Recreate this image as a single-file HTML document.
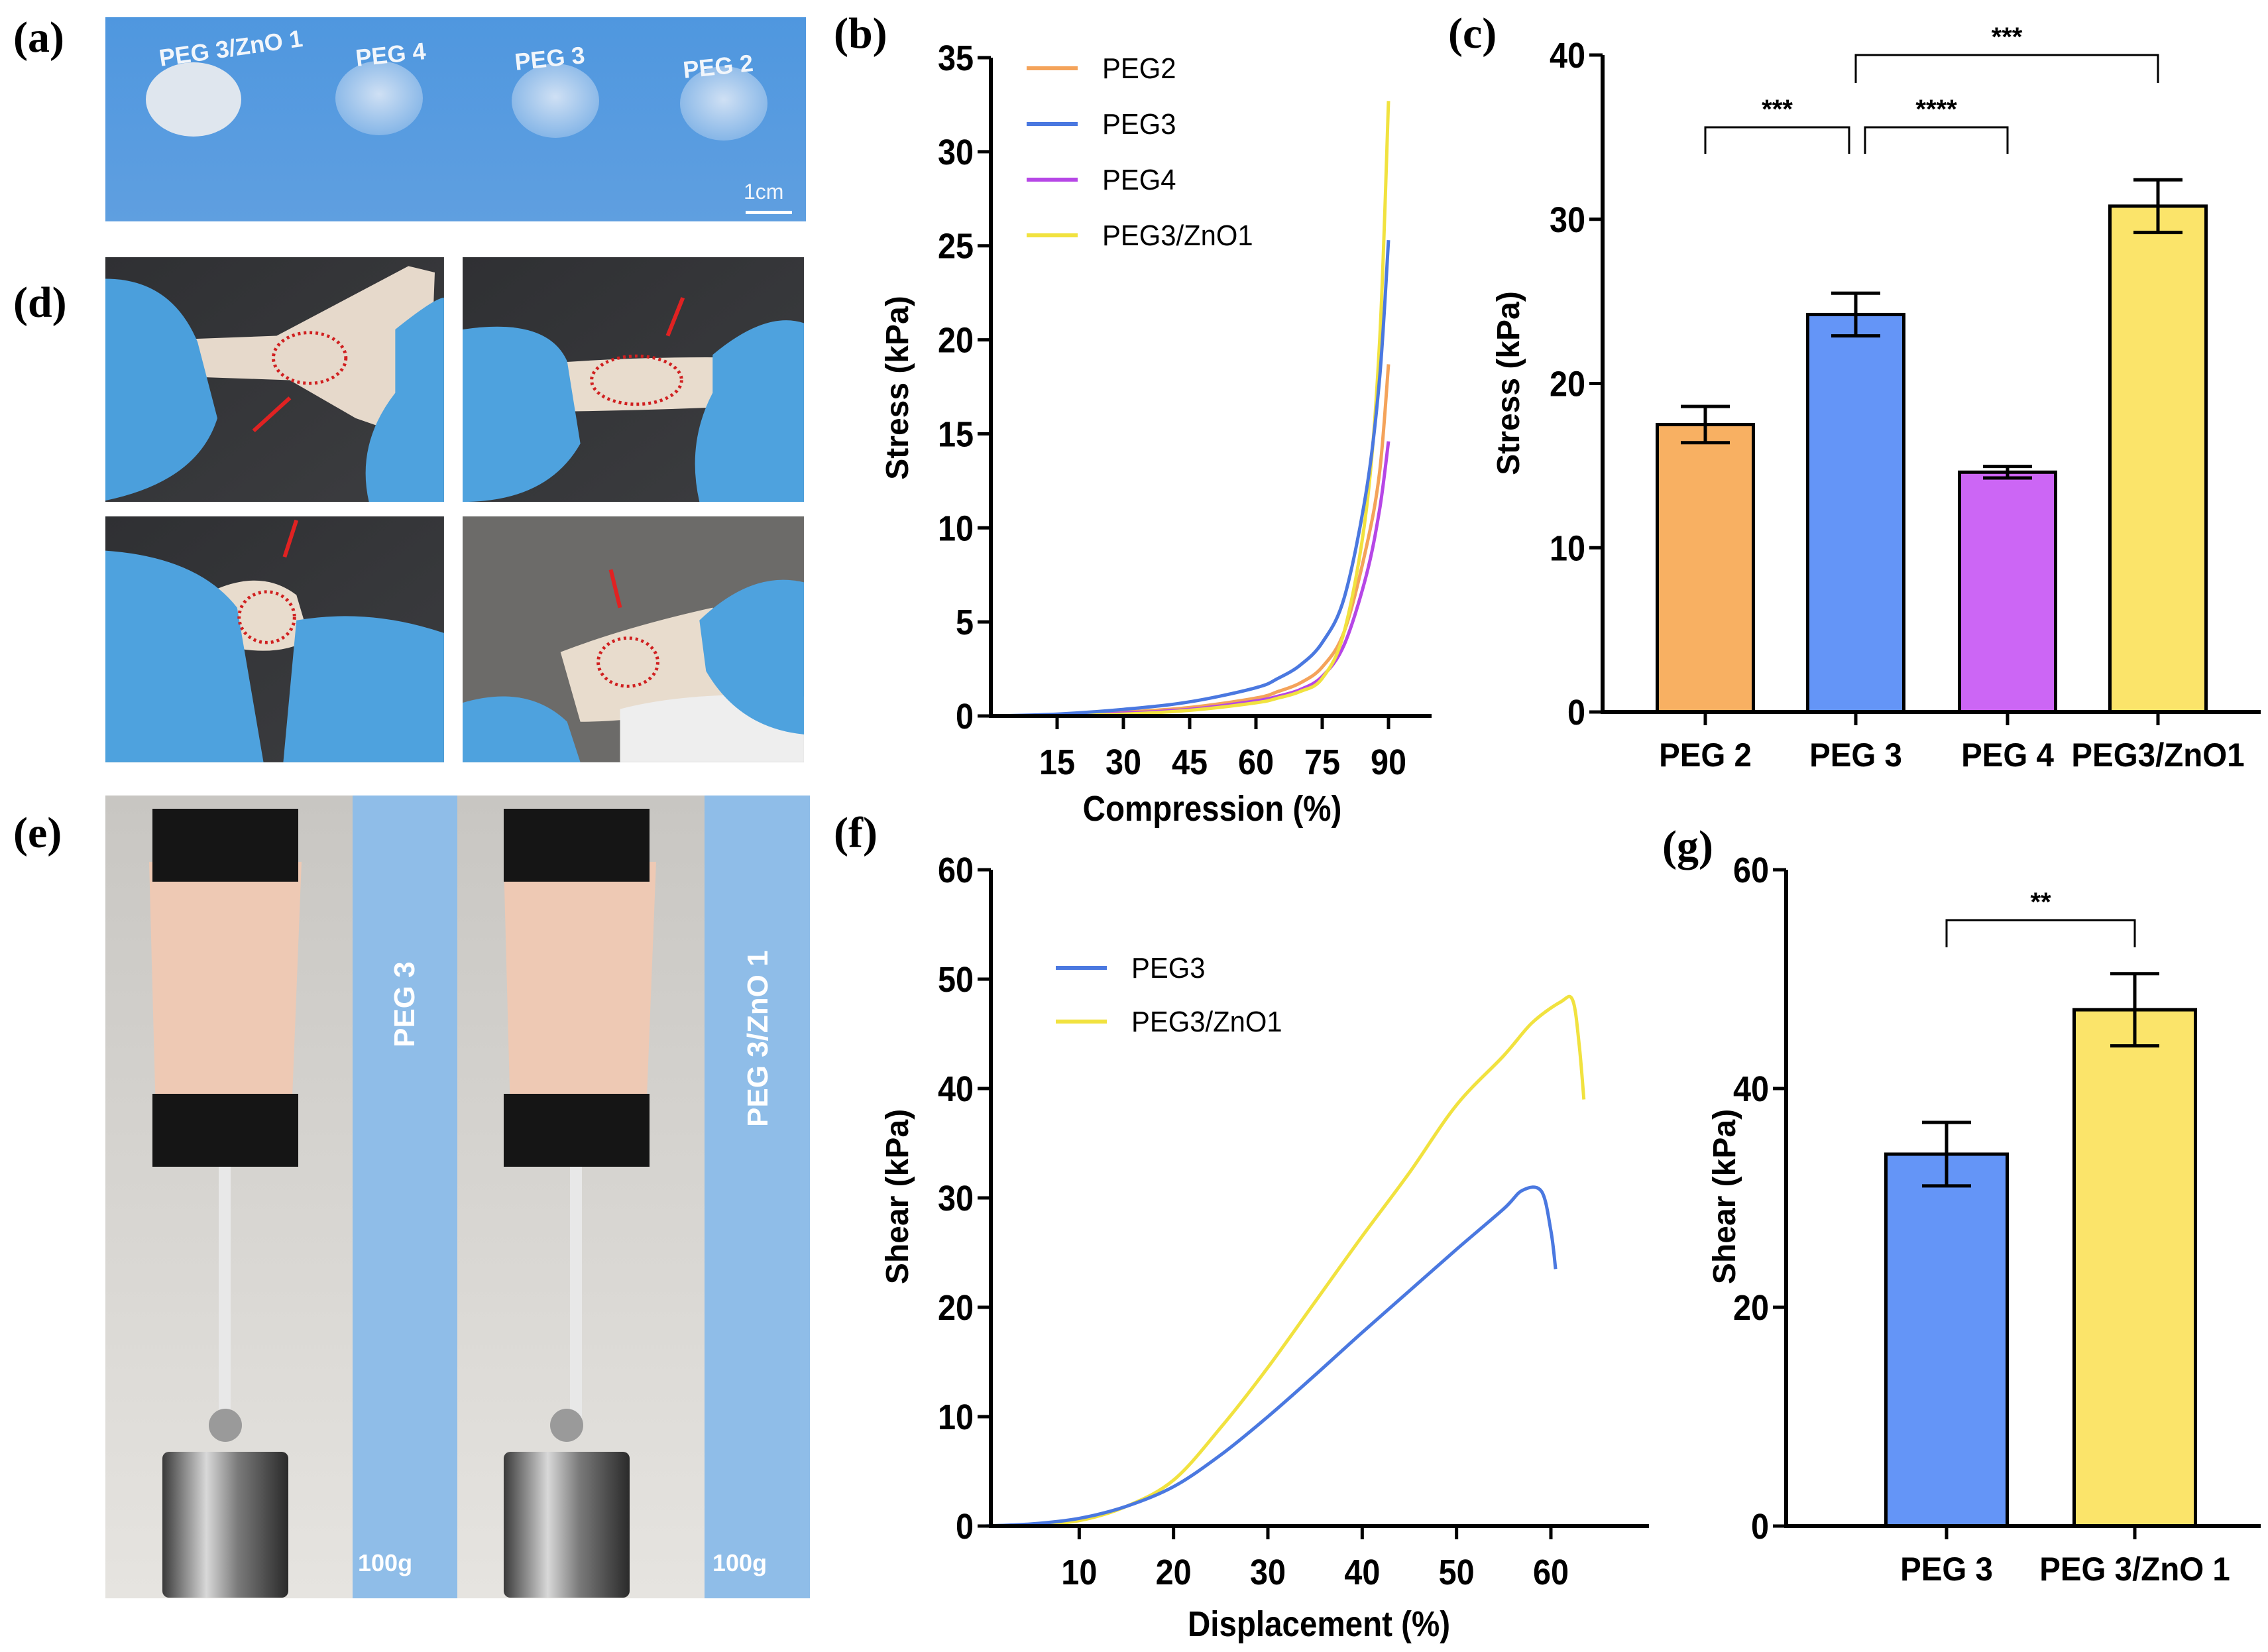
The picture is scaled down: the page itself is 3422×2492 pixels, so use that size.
<!DOCTYPE html>
<html><head><meta charset="utf-8"><style>
html,body{margin:0;padding:0;background:#fff;overflow:hidden}
svg{display:block}
text{font-family:"Liberation Sans",sans-serif}
</style></head><body>
<svg id="fig" width="3422" height="2492" viewBox="0 0 3422 2492" xmlns="http://www.w3.org/2000/svg">
<defs>
<linearGradient id="gblue" x1="0" y1="0" x2="0" y2="1"><stop offset="0" stop-color="#4f97df"/><stop offset="1" stop-color="#5f9fe0"/></linearGradient>
<radialGradient id="gel" cx="0.5" cy="0.45" r="0.6"><stop offset="0" stop-color="#cfe0f4"/><stop offset="1" stop-color="#7fb2e6"/></radialGradient>
<linearGradient id="dark" x1="0" y1="0" x2="1" y2="1"><stop offset="0" stop-color="#2f3033"/><stop offset="1" stop-color="#3c3d40"/></linearGradient>
<linearGradient id="wall" x1="0" y1="0" x2="0" y2="1"><stop offset="0" stop-color="#c8c6c2"/><stop offset="1" stop-color="#e6e4e0"/></linearGradient>
<linearGradient id="metal" x1="0" y1="0" x2="1" y2="0"><stop offset="0" stop-color="#3a3a3a"/><stop offset="0.35" stop-color="#d8d8d8"/><stop offset="0.6" stop-color="#7a7a7a"/><stop offset="1" stop-color="#2a2a2a"/></linearGradient>
</defs>

<g font-weight="bold" font-size="66">
<text x="20" y="78" style="font-family:'Liberation Serif',serif">(a)</text>
<text x="20" y="478" style="font-family:'Liberation Serif',serif">(d)</text>
<text x="20" y="1278" style="font-family:'Liberation Serif',serif">(e)</text>
<text x="1258" y="72" style="font-family:'Liberation Serif',serif">(b)</text>
<text x="2185" y="72" style="font-family:'Liberation Serif',serif">(c)</text>
<text x="1258" y="1278" style="font-family:'Liberation Serif',serif">(f)</text>
<text x="2508" y="1298" style="font-family:'Liberation Serif',serif">(g)</text>
</g>

<!-- panel a photo -->
<g>
<rect x="159" y="26" width="1057" height="308" fill="url(#gblue)"/>
<ellipse cx="292" cy="150" rx="72" ry="56" fill="#dfe6ee"/>
<ellipse cx="572" cy="148" rx="66" ry="56" fill="url(#gel)"/>
<ellipse cx="838" cy="152" rx="66" ry="56" fill="url(#gel)"/>
<ellipse cx="1092" cy="156" rx="66" ry="56" fill="url(#gel)"/>
<g fill="#f2f6fb" font-weight="bold" font-size="36">
<text x="242" y="100" transform="rotate(-8 242 100)">PEG 3/ZnO 1</text>
<text x="538" y="100" transform="rotate(-6 538 100)">PEG 4</text>
<text x="778" y="106" transform="rotate(-6 778 106)">PEG 3</text>
<text x="1032" y="118" transform="rotate(-6 1032 118)">PEG 2</text>
<text x="1122" y="300" font-weight="normal" font-size="32">1cm</text>
</g>
<rect x="1125" y="318" width="70" height="5" fill="#fff"/>
</g>

<!-- panel d photos -->
<g>
<g transform="translate(159 388) scale(0.994 0.956) translate(-160 -406)">
<rect x="160" y="406" width="514" height="386" fill="url(#dark)"/>
<path d="M160 540 L420 530 L620 420 L660 430 L650 700 L540 660 L440 600 L160 590Z" fill="#e6d9cb"/>
<path d="M160 440 Q260 440 300 540 L330 660 Q300 760 160 790Z" fill="#4b9fdc"/>
<path d="M600 520 Q660 470 674 470 L674 792 L560 792 Q540 700 600 620Z" fill="#4ea2de"/>
<ellipse cx="470" cy="565" rx="55" ry="40" fill="none" stroke="#d02020" stroke-width="5" stroke-dasharray="4 5"/>
<line x1="385" y1="680" x2="440" y2="628" stroke="#e02222" stroke-width="6"/>
</g>
<g transform="translate(698 388) scale(0.998 0.956) translate(-702 -406)">
<rect x="702" y="406" width="516" height="386" fill="url(#dark)"/>
<path d="M760 580 Q950 560 1150 565 L1150 640 Q950 650 760 650Z" fill="#e8dccd"/>
<path d="M702 520 Q830 500 860 570 L880 700 Q830 792 702 792Z" fill="#4ea2de"/>
<path d="M1080 560 Q1160 490 1218 510 L1218 792 L1060 792 Q1040 700 1080 620Z" fill="#4ea2de"/>
<ellipse cx="965" cy="600" rx="68" ry="38" fill="none" stroke="#d02020" stroke-width="5" stroke-dasharray="4 5"/>
<line x1="1035" y1="470" x2="1012" y2="530" stroke="#e02222" stroke-width="6"/>
</g>
<g transform="translate(159 779) scale(0.994 0.956) translate(-160 -816)">
<rect x="160" y="816" width="514" height="388" fill="url(#dark)"/>
<path d="M330 930 Q400 900 450 940 L470 1010 Q420 1040 340 1020Z" fill="#e8dccd"/>
<path d="M160 870 Q300 880 360 960 L400 1204 L160 1204Z" fill="#4ea2de"/>
<path d="M450 980 Q560 960 674 1000 L674 1204 L430 1204Z" fill="#4ea2de"/>
<ellipse cx="405" cy="975" rx="42" ry="40" fill="none" stroke="#d02020" stroke-width="5" stroke-dasharray="4 5"/>
<line x1="450" y1="822" x2="432" y2="880" stroke="#e02222" stroke-width="6"/>
</g>
<g transform="translate(698 779) scale(0.998 0.956) translate(-702 -816)">
<rect x="702" y="816" width="516" height="388" fill="#6c6b69"/>
<path d="M850 1030 Q950 990 1080 960 L1120 1100 Q1000 1140 880 1140Z" fill="#e8dccd"/>
<path d="M940 1120 Q1050 1090 1218 1100 L1218 1204 L940 1204Z" fill="#eeeeee"/>
<path d="M702 1110 Q800 1080 860 1140 L880 1204 L702 1204Z" fill="#4ea2de"/>
<path d="M1060 980 Q1140 900 1218 920 L1218 1160 Q1120 1150 1070 1060Z" fill="#4ea2de"/>
<ellipse cx="952" cy="1046" rx="45" ry="38" fill="none" stroke="#d02020" stroke-width="5" stroke-dasharray="4 5"/>
<line x1="926" y1="900" x2="940" y2="960" stroke="#e02222" stroke-width="6"/>
</g>
</g>

<!-- panel e -->
<g>
<rect x="159" y="1200" width="373" height="1211" fill="url(#wall)"/>
<rect x="690" y="1200" width="373" height="1211" fill="url(#wall)"/>
<rect x="532" y="1200" width="158" height="1211" fill="#8fbde8"/>
<rect x="1063" y="1200" width="159" height="1211" fill="#8fbde8"/>
<path d="M225 1300 L455 1300 L440 1680 L235 1680Z" fill="#eec9b4"/>
<path d="M760 1300 L990 1300 L975 1680 L770 1680Z" fill="#eec9b4"/>
<rect x="230" y="1220" width="220" height="110" fill="#151515"/>
<rect x="230" y="1650" width="220" height="110" fill="#151515"/>
<rect x="760" y="1220" width="220" height="110" fill="#151515"/>
<rect x="760" y="1650" width="220" height="110" fill="#151515"/>
<rect x="330" y="1760" width="18" height="380" fill="#e8e8e8"/>
<rect x="860" y="1760" width="18" height="380" fill="#e8e8e8"/>
<rect x="245" y="2190" width="190" height="220" rx="10" fill="url(#metal)"/>
<rect x="760" y="2190" width="190" height="220" rx="10" fill="url(#metal)"/>
<circle cx="340" cy="2150" r="25" fill="#9a9a9a"/>
<circle cx="855" cy="2150" r="25" fill="#9a9a9a"/>
<g fill="#fff" font-weight="bold" font-size="44">
<text x="0" y="0" transform="translate(625 1580) rotate(-90)">PEG 3</text>
<text x="0" y="0" transform="translate(1158 1700) rotate(-90)">PEG 3/ZnO 1</text>
<text x="540" y="2370" font-size="36">100g</text>
<text x="1075" y="2370" font-size="36">100g</text>
</g>
</g>

<g id="charts"></g>
</svg>
<script>
// ---------- data ----------
var compX = [0, 15, 30, 45, 60, 65, 70, 75, 80, 85, 88, 90];
var compPEG2 = [0, 0.05, 0.2, 0.45, 0.95, 1.3, 1.75, 2.6, 4.5, 9, 13, 18.7];
var compPEG3 = [0, 0.1, 0.35, 0.75, 1.5, 2.0, 2.7, 3.9, 6.3, 12, 18, 25.3];
var compPEG4 = [0, 0.05, 0.15, 0.35, 0.8, 1.05, 1.4, 2.1, 3.8, 7.5, 11, 14.6];
var compZnO  = [0, 0.03, 0.1, 0.3, 0.7, 0.95, 1.3, 2.0, 4.5, 11, 20, 32.7];
var compTicksX = [15, 30, 45, 60, 75, 90];
var compTicksY = [0, 5, 10, 15, 20, 25, 30, 35];

var barCats = ["PEG 2", "PEG 3", "PEG 4", "PEG3/ZnO1"];
var barVals = [17.5, 24.2, 14.6, 30.8];
var barErr  = [1.1, 1.3, 0.35, 1.6];
var barTicksY = [0, 10, 20, 30, 40];

var shearX3 = [0, 5, 10, 15, 20, 25, 30, 35, 40, 45, 50, 55, 57, 59, 60, 60.5];
var shearY3 = [0, 0.2, 0.7, 1.8, 3.6, 6.5, 10, 13.8, 17.7, 21.5, 25.3, 29, 30.7, 30.6, 27, 23.5];
var shearXZ = [0, 5, 10, 15, 20, 25, 30, 35, 40, 45, 50, 55, 58, 61, 62.3, 63, 63.5];
var shearYZ = [0, 0.1, 0.5, 1.8, 4.2, 9, 14.5, 20.5, 26.5, 32.3, 38.5, 43, 46, 47.9, 48.1, 44, 39];
var shearTicksX = [10, 20, 30, 40, 50, 60];
var shearTicksY = [0, 10, 20, 30, 40, 50, 60];

var gCats = ["PEG 3", "PEG 3/ZnO 1"];
var gVals = [34, 47.2];
var gErr  = [2.9, 3.3];
var gTicksY = [0, 20, 40, 60];

var NS = "http://www.w3.org/2000/svg";
var root = document.getElementById("charts");
function el(tag, attrs, parent) {
  var e = document.createElementNS(NS, tag);
  for (var k in attrs) e.setAttribute(k, attrs[k]);
  (parent || root).appendChild(e);
  return e;
}
function ntext(str, x, y, size, anchor, weight, parent, sx) {
  var t = el("text", {x: 0, y: 0, "font-size": size, "text-anchor": anchor, "font-weight": weight,
    transform: "translate(" + x + " " + y + ") scale(" + (sx || 0.9) + " 1)"}, parent);
  t.textContent = str;
  return t;
}
function lin(d0, d1, r0, r1) { return function (v) { return r0 + (v - d0) / (d1 - d0) * (r1 - r0); }; }
function smoothPath(xs, ys, sx, sy) {
  var p = xs.map(function (x, i) { return [sx(x), sy(ys[i])]; });
  var d = "M" + p[0][0] + " " + p[0][1];
  for (var i = 0; i < p.length - 1; i++) {
    var p0 = p[Math.max(0, i - 1)], p1 = p[i], p2 = p[i + 1], p3 = p[Math.min(p.length - 1, i + 2)];
    var c1x = p1[0] + (p2[0] - p0[0]) / 6, c1y = p1[1] + (p2[1] - p0[1]) / 6;
    var c2x = p2[0] - (p3[0] - p1[0]) / 6, c2y = p2[1] - (p3[1] - p1[1]) / 6;
    d += " C" + c1x.toFixed(1) + " " + c1y.toFixed(1) + " " + c2x.toFixed(1) + " " + c2y.toFixed(1) + " " + p2[0].toFixed(1) + " " + p2[1].toFixed(1);
  }
  return d;
}
function axes(g, x0, xEnd, y0, yTop, ticksY, sy, ticksX, sx) {
  var a = el("path", {d: "M" + x0 + " " + yTop + " L" + x0 + " " + y0 + " L" + xEnd + " " + y0, fill: "none", stroke: "#000", "stroke-width": 6}, g);
  
  
  ticksY.forEach(function (v) {
    var y = sy(v);
    el("line", {x1: x0 - 20, x2: x0, y1: y, y2: y, stroke: "#000", "stroke-width": 5}, g);
    var t = ntext(String(v), x0 - 26, y + 19, 54, "end", "bold", g);
    
    
  });
  (ticksX || []).forEach(function (v) {
    var x = sx(v);
    el("line", {x1: x, x2: x, y1: y0, y2: y0 + 20, stroke: "#000", "stroke-width": 5}, g);
    var t = ntext(String(v), x, y0 + 88, 54, "middle", "bold", g);
    
    
  });
}
function ylabel(g, str, x, y) {
  var t = el("text", {x: 0, y: 0, "font-size": 48, "font-weight": "bold", "text-anchor": "middle", transform: "translate(" + x + " " + y + ") rotate(-90)"}, g);
  t.textContent = str;
  
  
}
function legend(g, items, x, y, dy) {
  items.forEach(function (it, i) {
    var yy = y + i * dy;
    var l = el("line", {x1: x, x2: x + 77, y1: yy, y2: yy, stroke: it[1], "stroke-width": 6}, g);
    
    
    var t = ntext(it[0], x + 114, yy + 15, 44, "start", "normal", g, 0.95);
    
    
  });
}
function bracket(g, x1, x2, y, h, label) {
  el("path", {d: "M" + x1 + " " + (y + h) + " L" + x1 + " " + y + " L" + x2 + " " + y + " L" + x2 + " " + (y + h), fill: "none", stroke: "#000", "stroke-width": 3}, g);
  var t = ntext(label, (x1 + x2) / 2, y - 14, 40, "middle", "bold", g, 1);
  
  
}
var colors = {peg2: "#f4a35a", peg3: "#4a78e0", peg4: "#b646e6", zno: "#f1e23f"};

function bars(g, name, cats, vals, errs, centers, bw, cols, sy) {
  vals.forEach(function (v, i) {
    var cx = centers[i];
    var r = el("rect", {x: cx - bw / 2, y: sy(v), width: bw, height: sy(0) - sy(v), fill: cols[i], stroke: "#000", "stroke-width": 5}, g);
    
    
    var hi = sy(v + errs[i]), lo = sy(v - errs[i]), cw = 37;
    var e = el("path", {d: "M" + cx + " " + hi + " L" + cx + " " + lo + " M" + (cx - cw) + " " + hi + " L" + (cx + cw) + " " + hi + " M" + (cx - cw) + " " + lo + " L" + (cx + cw) + " " + lo, stroke: "#000", "stroke-width": 5, fill: "none"}, g);
    
    
    el("line", {x1: cx, x2: cx, y1: sy(0), y2: sy(0) + 20, stroke: "#000", "stroke-width": 5}, g);
    var t = ntext(cats[i], cx, sy(0) + 82, 50, "middle", "bold", g, 0.95);
    
    
  });
}

// ---------- panel b ----------
(function () {
  var g = el("g", {});
  
  
  var sx = lin(0, 90, 1495, 2095), sy = lin(0, 35, 1080, 87);
  [[compPEG2, colors.peg2, "curve-peg2"], [compPEG4, colors.peg4, "curve-peg4"], [compZnO, colors.zno, "curve-peg3-zno1"], [compPEG3, colors.peg3, "curve-peg3"]].forEach(function (s) {
    var p = el("path", {d: smoothPath(compX, s[0], sx, sy), fill: "none", stroke: s[1], "stroke-width": 5}, g);
    
    
  });
  axes(g, 1495, 2160, 1080, 87, compTicksY, sy, compTicksX, sx);
  ylabel(g, "Stress (kPa)", 1370, 585);
  var t = ntext("Compression (%)", 1829, 1238, 54, "middle", "bold", g, 0.88);
  
  
  legend(g, [["PEG2", colors.peg2], ["PEG3", colors.peg3], ["PEG4", colors.peg4], ["PEG3/ZnO1", colors.zno]], 1549, 103, 84);
})();

// ---------- panel c ----------
(function () {
  var g = el("g", {});
  
  
  var sy = lin(0, 40, 1074, 83);
  var centers = [2573, 2800, 3029, 3256];
  bars(g, "c", barCats, barVals, barErr, centers, 145, ["#f8b062", "#6495f7", "#cc66f5", "#fbe46a"], sy);
  axes(g, 2418, 3411, 1074, 83, barTicksY, sy);
  ylabel(g, "Stress (kPa)", 2292, 578);
  bracket(g, centers[0], centers[1] - 10, 192, 40, "***");
  bracket(g, centers[1] + 14, centers[2], 192, 40, "****");
  bracket(g, centers[1], centers[3], 83, 42, "***");
})();

// ---------- panel f ----------
(function () {
  var g = el("g", {});
  
  
  var sx = lin(0, 60, 1486, 2340), sy = lin(0, 60, 2302, 1312);
  [[shearXZ, shearYZ, colors.zno, "curve-peg3-zno1"], [shearX3, shearY3, colors.peg3, "curve-peg3"]].forEach(function (s) {
    var p = el("path", {d: smoothPath(s[0], s[1], sx, sy), fill: "none", stroke: s[2], "stroke-width": 5}, g);
    
    
  });
  axes(g, 1495, 2488, 2302, 1312, shearTicksY, sy, shearTicksX, sx);
  ylabel(g, "Shear (kPa)", 1370, 1805);
  var t = ntext("Displacement (%)", 1990, 2468, 54, "middle", "bold", g, 0.88);
  
  
  legend(g, [["PEG3", colors.peg3], ["PEG3/ZnO1", colors.zno]], 1593, 1460, 81);
})();

// ---------- panel g ----------
(function () {
  var g = el("g", {});
  
  
  var sy = lin(0, 60, 2302, 1312);
  var centers = [2937, 3221];
  bars(g, "g", gCats, gVals, gErr, centers, 183, ["#6495f7", "#fbe46a"], sy);
  axes(g, 2695, 3411, 2302, 1312, gTicksY, sy);
  ylabel(g, "Shear (kPa)", 2618, 1805);
  bracket(g, centers[0], centers[1], 1388, 41, "**");
})();
</script>
</body></html>
